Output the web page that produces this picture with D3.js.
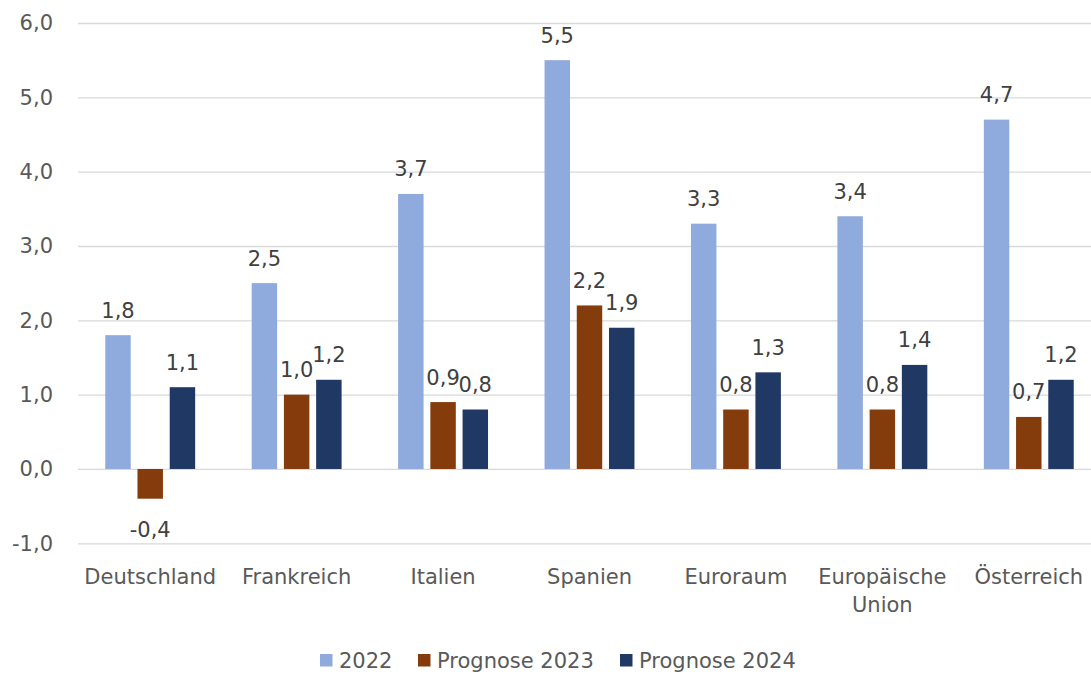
<!DOCTYPE html>
<html>
<head>
<meta charset="utf-8">
<script src="https://cdn.jsdelivr.net/npm/d3@7"></script>
<style>
	body { margin: 0; background: #fff; }
	text { font-family: "DejaVu Sans", sans-serif; }
</style>
</head>
<body>
<div id="chart"></div>
<script>
// Wirtschaftswachstum, real in %
const categories = ["Deutschland", "Frankreich", "Italien", "Spanien", "Euroraum", "Europäische Union", "Österreich"];
const seriesNames = ["2022", "Prognose 2023", "Prognose 2024"];
const values2022 = [1.8, 2.5, 3.7, 5.5, 3.3, 3.4, 4.7];
const values2023 = [-0.4, 1.0, 0.9, 2.2, 0.8, 0.8, 0.7];
const values2024 = [1.1, 1.2, 0.8, 1.9, 1.3, 1.4, 1.2];
const yTicks = [-1, 0, 1, 2, 3, 4, 5, 6];

const colors = ["#8FAADC", "#843C0C", "#203864"];
const width = 1091, height = 675;

const locale = d3.formatLocale({ decimal: ",", thousands: ".", grouping: [3], currency: ["", " €"], minus: "-" });
const fmt = locale.format(".1f");

const seriesValues = [values2022, values2023, values2024];
const rows = categories.map((c, i) => ({
	category: c,
	values: seriesNames.map((s, j) => ({ series: s, idx: j, value: seriesValues[j][i] }))
}));

const svg = d3.select("#chart")
	.append("svg")
	.attr("width", width)
	.attr("height", height);

let y = d3.scaleLinear().domain([-1, 6]).range([543.3, 23]);
let x0 = d3.scaleBand().domain(categories).range([77, 1102]).paddingInner(0.386).paddingOuter(0.193);
let x1 = d3.scaleBand().domain(seriesNames).range([0, x0.bandwidth()]).paddingInner(0.21);

// y axis with grid
let yAxis = d3.axisLeft(y)
	.tickValues(yTicks)
	.tickSize(-(width - 78))
	.tickPadding(25)
	.tickFormat(fmt);

let gy = svg.append("g")
	.attr("class", "y axis")
	.attr("transform", "translate(78,0)")
	.call(yAxis);
gy.select(".domain").remove();
gy.selectAll(".tick line")
	.style("stroke", "#D9D9D9")
	.style("stroke-width", "1.3px");
gy.selectAll(".tick text")
	.style("font-size", "21px")
	.style("fill", "#595959");

// bars
let groups = svg.selectAll("g.group")
	.data(rows)
	.enter().append("g")
	.attr("class", "group")
	.attr("transform", d => "translate(" + x0(d.category) + ",0)");

groups.selectAll("rect")
	.data(d => d.values)
	.enter().append("rect")
	.attr("x", d => x1(d.series))
	.attr("width", x1.bandwidth())
	.attr("y", d => y(Math.max(0, d.value)))
	.attr("height", d => Math.abs(y(d.value) - y(0)))
	.style("fill", d => colors[d.idx]);

groups.selectAll("text.label")
	.data(d => d.values)
	.enter().append("text")
	.attr("class", "label")
	.attr("x", d => x1(d.series) + x1.bandwidth() / 2)
	.attr("y", d => d.value >= 0 ? y(d.value) - 17.5 : y(d.value) + 38)
	.attr("text-anchor", "middle")
	.style("font-size", "21px")
	.style("fill", "#404040")
	.text(d => fmt(d.value));

// category labels
let catLabels = svg.selectAll("text.cat")
	.data(categories)
	.enter().append("text")
	.attr("class", "cat")
	.attr("text-anchor", "middle")
	.attr("x", d => x0(d) + x0.bandwidth() / 2)
	.attr("y", 584)
	.style("font-size", "21px")
	.style("fill", "#595959");

catLabels.selectAll("tspan")
	.data(d => d.split(" "))
	.enter().append("tspan")
	.attr("x", function() { return d3.select(this.parentNode).attr("x"); })
	.attr("dy", (d, i) => i === 0 ? 0 : 28)
	.text(d => d);

// legend
let legendX = [320, 418, 620];
let legend = svg.selectAll("g.legend")
	.data(seriesNames)
	.enter().append("g")
	.attr("class", "legend")
	.attr("transform", (d, i) => "translate(" + legendX[i] + ",654)");

legend.append("rect")
	.attr("width", 12.5)
	.attr("height", 12.5)
	.style("fill", (d, i) => colors[i]);

legend.append("text")
	.attr("x", 19)
	.attr("y", 14)
	.style("font-size", "21px")
	.style("fill", "#595959")
	.text(d => d);
</script>
</body>
</html>
